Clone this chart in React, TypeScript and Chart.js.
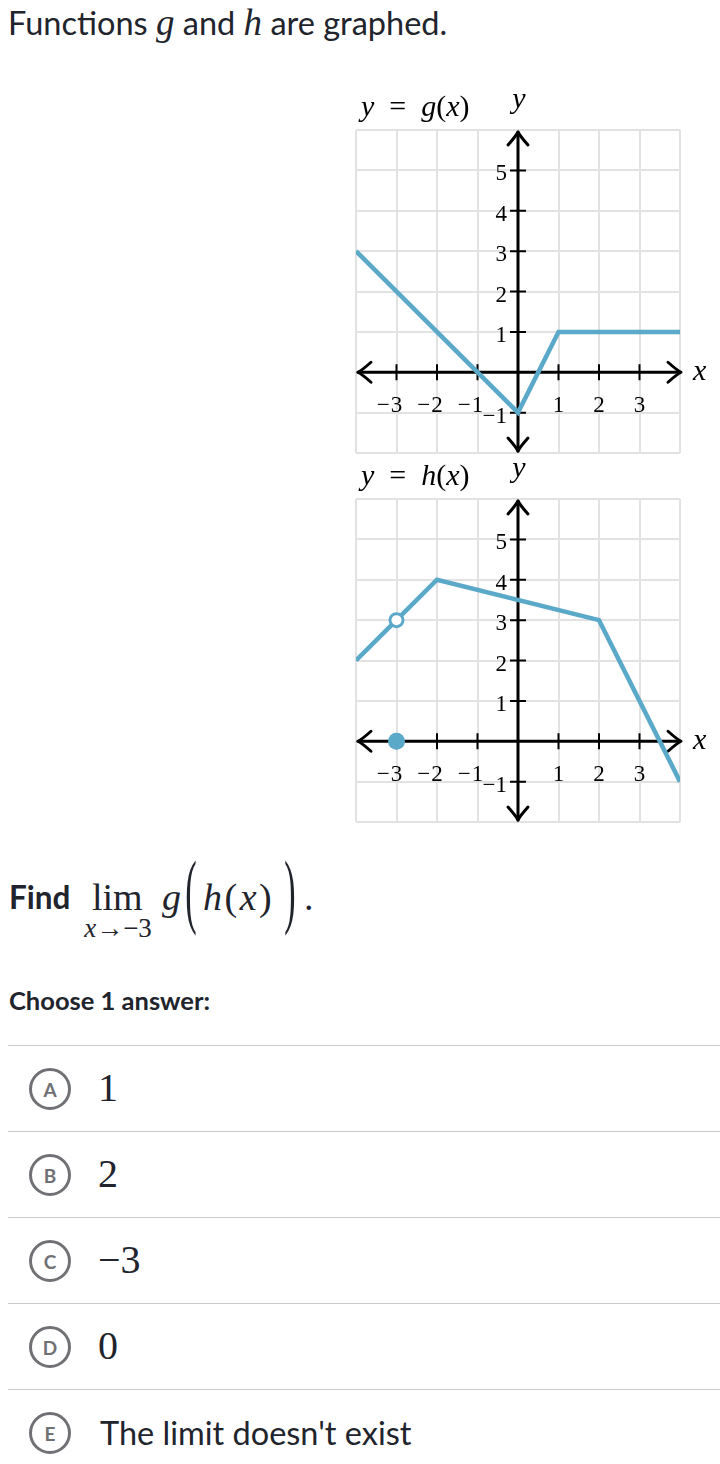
import React, { useEffect, useRef } from "react";
import { Chart, registerables } from "chart.js";
Chart.register(...registerables);

// ---------- data ----------
const xRange = [-4, 4];
const yRange = [-2, 6];
const xTickValues = [-3, -2, -1, 1, 2, 3];
const yTickValues = [1, 2, 3, 4, 5, -1];

const gX = [-4, 0, 1, 4];
const gY = [3, -1, 1, 1];

const hX = [-4, -3, -2, 2, 4];
const hY = [2, 3, 4, 3, -1];
const hOpenX = [-3];
const hOpenY = [3];
const hClosedX = [-3];
const hClosedY = [0];

const choiceLetters = ["A", "B", "C", "D", "E"];
const choiceTexts = ["1", "2", "−3", "0", "The limit doesn't exist"];
const choiceIsMath = [true, true, true, true, false];

// ---------- styles ----------
const BLUE = "#5aa9c9";
const TEXT = "#21242c";
const SERIF = '"Liberation Serif", "DejaVu Serif", serif';
const LATO = 'Lato, "Noto Sans", sans-serif';

type Seg = { t: string; it: boolean };

function drawSegs(ctx: CanvasRenderingContext2D, segs: Seg[], x: number, base: number, size: number) {
  let cx = x;
  ctx.textAlign = "left";
  ctx.textBaseline = "alphabetic";
  for (const s of segs) {
    ctx.font = `${s.it ? "italic " : ""}${size}px ${SERIF}`;
    ctx.fillText(s.t, cx, base);
    cx += ctx.measureText(s.t).width;
  }
}

function arrow(ctx: CanvasRenderingContext2D, tx: number, ty: number, dx: number, dy: number) {
  const px = -dy, py = dx;
  const back = 13, side = 10;
  ctx.beginPath();
  ctx.moveTo(tx - dx * back + px * side, ty - dy * back + py * side);
  ctx.quadraticCurveTo(tx - dx * 4 + px * 2, ty - dy * 4 + py * 2, tx, ty);
  ctx.quadraticCurveTo(tx - dx * 4 - px * 2, ty - dy * 4 - py * 2, tx - dx * back - px * side, ty - dy * back - py * side);
  ctx.stroke();
}

const axesPlugin = {
  id: "khanAxes",
  beforeDatasetsDraw(chart: any) {
    const { ctx, chartArea: a, scales } = chart;
    const xs = scales.x, ys = scales.y;
    const x0 = xs.getPixelForValue(0);
    const y0 = ys.getPixelForValue(0);
    ctx.save();
    ctx.strokeStyle = "#000";
    ctx.lineWidth = 3;
    ctx.lineCap = "round";
    ctx.lineJoin = "round";
    // axes
    ctx.beginPath();
    ctx.moveTo(a.left + 2, y0);
    ctx.lineTo(a.right, y0);
    ctx.moveTo(x0, a.top + 2);
    ctx.lineTo(x0, a.bottom - 2);
    ctx.stroke();
    arrow(ctx, a.left + 2, y0, -1, 0);
    arrow(ctx, a.right + 1, y0, 1, 0);
    arrow(ctx, x0, a.top + 2, 0, -1);
    arrow(ctx, x0, a.bottom - 2, 0, 1);
    // ticks
    ctx.lineWidth = 2;
    ctx.lineCap = "butt";
    ctx.beginPath();
    for (const v of xTickValues) {
      const p = xs.getPixelForValue(v);
      ctx.moveTo(p, y0 - 8);
      ctx.lineTo(p, y0 + 8);
    }
    for (const v of yTickValues) {
      const p = ys.getPixelForValue(v);
      ctx.moveTo(x0 - 8, p);
      ctx.lineTo(x0 + 8, p);
    }
    ctx.stroke();
    // tick labels
    ctx.fillStyle = "#000";
    ctx.font = `23px ${SERIF}`;
    ctx.textBaseline = "alphabetic";
    for (const v of xTickValues) {
      const p = xs.getPixelForValue(v);
      const d = String(Math.abs(v));
      const w = ctx.measureText(d).width;
      ctx.textAlign = "center";
      ctx.fillText(d, p, y0 + 40);
      if (v < 0) {
        ctx.textAlign = "right";
        ctx.fillText("−", p - w / 2 - 1, y0 + 40);
      }
    }
    for (const v of yTickValues) {
      const p = ys.getPixelForValue(v);
      ctx.textAlign = "right";
      ctx.fillText(v < 0 ? "−" + Math.abs(v) : String(v), x0 - 11, p + 10);
    }
    ctx.restore();
  },
  afterDraw(chart: any, _args: any, opts: any) {
    const { ctx, chartArea: a, scales } = chart;
    const x0 = scales.x.getPixelForValue(0);
    const y0 = scales.y.getPixelForValue(0);
    ctx.save();
    ctx.fillStyle = "#000";
    drawSegs(ctx, [
      { t: "y", it: true }, { t: "  =  ", it: false }, { t: opts.fname, it: true },
      { t: "(", it: false }, { t: "x", it: true }, { t: ")", it: false },
    ], a.left + 5, a.top - 14, 30);
    ctx.font = `italic 30px ${SERIF}`;
    ctx.textAlign = "center";
    ctx.fillText("y", x0 + 1, a.top - 22);
    ctx.textAlign = "left";
    ctx.fillText("x", a.right + 13, y0 + 8);
    ctx.restore();
  },
};

type GraphProps = {
  top: number; height: number; padTop: number; padBottom: number;
  lx: number[]; ly: number[];
  ox?: number[]; oy?: number[]; cx?: number[]; cy?: number[];
  fname: string;
};

function Graph(p: GraphProps) {
  const ref = useRef<HTMLCanvasElement>(null);
  useEffect(() => {
    const datasets: any[] = [
      {
        data: p.lx.map((x, i) => ({ x, y: p.ly[i] })),
        showLine: true, borderColor: BLUE, borderWidth: 4.5, pointRadius: 0,
        borderJoinStyle: "miter", order: 3,
      },
    ];
    if (p.cx && p.cy) {
      datasets.push({
        data: p.cx.map((x, i) => ({ x, y: p.cy![i] })),
        showLine: false, pointRadius: 8.5, pointBackgroundColor: BLUE,
        pointBorderColor: BLUE, pointBorderWidth: 0, order: 1, clip: false,
      });
    }
    if (p.ox && p.oy) {
      datasets.push({
        data: p.ox.map((x, i) => ({ x, y: p.oy![i] })),
        showLine: false, pointRadius: 6.5, pointBackgroundColor: "#fff",
        pointBorderColor: BLUE, pointBorderWidth: 3, order: 2, clip: false,
      });
    }
    const gridOpts = { color: "#e2e2e2", lineWidth: 2, drawTicks: false };
    const chart = new Chart(ref.current!, {
      type: "scatter",
      data: { datasets },
      options: {
        animation: false,
        responsive: false,
        devicePixelRatio: 1,
        events: [],
        layout: { padding: { left: 16, right: 40, top: p.padTop, bottom: p.padBottom } },
        plugins: { legend: { display: false }, tooltip: { enabled: false }, khanAxes: { fname: p.fname } } as any,
        scales: {
          x: {
            type: "linear", min: xRange[0], max: xRange[1],
            ticks: { stepSize: 1, display: false },
            grid: gridOpts, border: { display: false },
            afterFit: (s: any) => { s.height = 0; },
          },
          y: {
            type: "linear", min: yRange[0], max: yRange[1],
            ticks: { stepSize: 1, display: false },
            grid: gridOpts, border: { display: false },
            afterFit: (s: any) => { s.width = 0; },
          },
        },
      },
      plugins: [axesPlugin as any],
    });
    return () => chart.destroy();
  }, []);
  return (
    <canvas
      ref={ref}
      width={380}
      height={p.height}
      style={{ position: "absolute", left: 340, top: p.top, width: 380, height: p.height }}
    />
  );
}

function T(props: {
  x: number; base: number; size: number; family?: string; weight?: number;
  italic?: boolean; color?: string; center?: boolean; spacing?: number; children: React.ReactNode;
}) {
  const family = props.family || LATO;
  const L = Math.round(props.size * 1.5);
  const k = family === LATO ? 0.387 : 0.3375;
  const top = props.base - L / 2 - k * props.size;
  return (
    <div
      style={{
        position: "absolute", left: props.x, top, fontFamily: family, fontSize: props.size,
        fontWeight: props.weight || 400, fontStyle: props.italic ? "italic" : "normal",
        lineHeight: L + "px", color: props.color || TEXT, whiteSpace: "nowrap",
        letterSpacing: props.spacing ? props.spacing + "px" : undefined,
        transform: props.center ? "translateX(-50%)" : undefined,
      }}
    >
      {props.children}
    </div>
  );
}

function BigParen(props: { x: number; center: number; ch: string }) {
  const size = 36;
  const L = 54;
  const k = 0.3375;
  const glyphCenterFromTop = L / 2 + k * size - 0.25 * size;
  const top = props.center - glyphCenterFromTop;
  return (
    <div
      style={{
        position: "absolute", left: props.x, top, fontFamily: SERIF, fontSize: size,
        lineHeight: L + "px", color: TEXT, transform: "scale(0.95, 2.3)",
        transformOrigin: `50% ${glyphCenterFromTop}px`,
      }}
    >
      {props.ch}
    </div>
  );
}

const I = (p: { children: React.ReactNode }) => <span style={{ fontStyle: "italic" }}>{p.children}</span>;

export default function App() {
  useEffect(() => {
    document.body.style.margin = "0";
    document.body.style.background = "#fff";
  }, []);
  const rowStep = 86.05;
  return (
    <div style={{ position: "relative", width: 720, height: 1464, overflow: "hidden", background: "#fff" }}>
      <T x={8} base={35} size={32.5}>
        Functions <span style={{ fontFamily: SERIF, fontStyle: "italic", fontSize: 37 }}>g</span> and{" "}
        <span style={{ fontFamily: SERIF, fontStyle: "italic", fontSize: 37 }}>h</span> are graphed.
      </T>

      <Graph top={85} height={380} padTop={45} padBottom={12} lx={gX} ly={gY} fname="g" />
      <Graph
        top={460} height={375} padTop={39} padBottom={13} lx={hX} ly={hY}
        ox={hOpenX} oy={hOpenY} cx={hClosedX} cy={hClosedY} fname="h"
      />

      <T x={9} base={910} size={31.5} weight={700}>Find</T>
      <T x={92} base={910} size={38} family={SERIF}>lim</T>
      <T x={118} base={938} size={27} family={SERIF} center>
        <I>x</I>→−3
      </T>
      <T x={162} base={910} size={38} family={SERIF} italic>g</T>
      <BigParen x={185} center={897} ch="(" />
      <T x={203} base={910} size={38} family={SERIF} spacing={2.5}>
        <I>h</I>(<I>x</I>)
      </T>
      <BigParen x={284} center={897} ch=")" />
      <T x={304} base={910} size={38} family={SERIF}>.</T>

      <T x={9} base={1010} size={25.5} weight={700}>Choose 1 answer:</T>

      {choiceLetters.map((L, i) => {
        const sepY = 1045.5 + rowStep * i;
        const cy = 1089 + rowStep * i;
        const D = 42;
        return (
          <React.Fragment key={L}>
            <div style={{ position: "absolute", left: 8, top: sepY - 1, width: 712, height: 1.5, background: "#c9cacc" }} />
            <div
              style={{
                position: "absolute", left: 50 - D / 2, top: cy - D / 2, width: D, height: D,
                boxSizing: "border-box", borderRadius: "50%", border: "3px solid #707174",
                display: "flex", alignItems: "center", justifyContent: "center",
                fontFamily: LATO, fontWeight: 700, fontSize: 19, color: "#707174",
              }}
            >
              {L}
            </div>
            {choiceIsMath[i] ? (
              <T x={98} base={cy + 12} size={40} family={SERIF}>{choiceTexts[i]}</T>
            ) : (
              <T x={100} base={cy + 12} size={32.5}>{choiceTexts[i]}</T>
            )}
          </React.Fragment>
        );
      })}
    </div>
  );
}
